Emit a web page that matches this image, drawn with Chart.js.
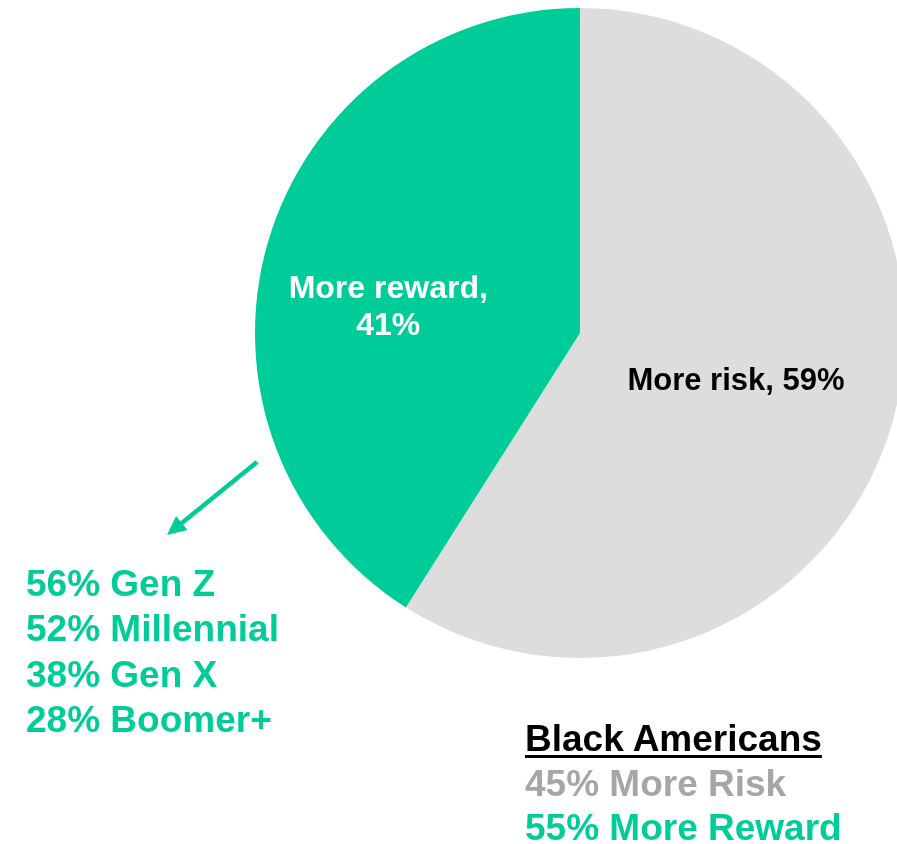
<!DOCTYPE html>
<html>
<head>
<meta charset="utf-8">
<script src="https://cdn.jsdelivr.net/npm/chart.js@4"></script>
<style>
  html, body { margin: 0; padding: 0; background: #fff; overflow: hidden; }
  body { width: 897px; height: 844px; position: relative; font-family: "Liberation Sans", Arial, sans-serif; font-weight: bold; }
  #wrap { position: absolute; left: 0; top: 0; width: 1000px; height: 844px; }
  .note { position: absolute; font-size: 37px; white-space: nowrap; }
  #gens { left: 26px; top: 561px; line-height: 45.3px; color: #00CC99; }
  #black { left: 525px; top: 717px; line-height: 44.5px; }
  #black .head { color: #000; text-decoration: underline; text-decoration-thickness: 3px; text-underline-offset: 4px; }
  #black .risk { color: #A6A6A6; }
  #black .reward { color: #00CC99; }
</style>
</head>
<body>
<div id="wrap"><canvas id="pie-chart"></canvas></div>
<div class="note" id="gens"></div>
<div class="note" id="black"></div>

<script>
// data
var labels = ["More risk", "More reward"];
var values = [59, 41];
var colors = ["#DDDDDD", "#00CC99"];

var genLabels = ["Gen Z", "Millennial", "Gen X", "Boomer+"];
var genValues = [56, 52, 38, 28];

var groupName = "Black Americans";
var groupLabels = ["More Risk", "More Reward"];
var groupValues = [45, 55];

// side notes
document.getElementById('gens').innerHTML = genLabels.map(function (g, i) {
  return '<div>' + genValues[i] + '% ' + g + '</div>';
}).join('');

document.getElementById('black').innerHTML =
  '<div class="head">' + groupName + '</div>' +
  '<div class="risk">' + groupValues[0] + '% ' + groupLabels[0] + '</div>' +
  '<div class="reward">' + groupValues[1] + '% ' + groupLabels[1] + '</div>';

// slice labels + arrow pointing at the generation breakdown
var sliceLabels = {
  id: 'sliceLabels',
  afterDraw: function (chart) {
    var ctx = chart.ctx;
    var arc = chart.getDatasetMeta(0).data[0];
    var cx = arc.x, cy = arc.y, r = arc.outerRadius;
    ctx.save();
    ctx.font = 'bold 31px "Liberation Sans", Arial, sans-serif';
    ctx.textAlign = 'center';
    ctx.textBaseline = 'alphabetic';

    ctx.fillStyle = '#000';
    ctx.fillText(labels[0] + ', ' + values[0] + '%', cx + r * 0.48, cy + 57);

    ctx.fillStyle = '#fff';
    ctx.font = 'bold 32px "Liberation Sans", Arial, sans-serif';
    ctx.fillText(labels[1] + ',', cx - r * 0.59, cy - 35);
    ctx.fillText(values[1] + '%', cx - r * 0.59, cy + 2);

    // arrow
    var x1 = 257, y1 = 462, x2 = 167, y2 = 535;
    var ang = Math.atan2(y2 - y1, x2 - x1);
    var c = Math.cos(ang), s = Math.sin(ang);
    ctx.strokeStyle = '#00CC99';
    ctx.fillStyle = '#00CC99';
    ctx.lineWidth = 4.5;
    ctx.beginPath();
    ctx.moveTo(x1, y1);
    ctx.lineTo(x2 - 12 * c, y2 - 12 * s);
    ctx.stroke();
    ctx.beginPath();
    ctx.moveTo(x2, y2);
    ctx.lineTo(x2 - 19 * c + 9 * s, y2 - 19 * s - 9 * c);
    ctx.lineTo(x2 - 19 * c - 9 * s, y2 - 19 * s + 9 * c);
    ctx.closePath();
    ctx.fill();
    ctx.restore();
  }
};

var pieChart = new Chart(document.getElementById('pie-chart'), {
  type: 'pie',
  data: {
    labels: labels,
    datasets: [{
      data: values,
      backgroundColor: colors,
      borderWidth: 0
    }]
  },
  options: {
    responsive: true, maintainAspectRatio: false,
    animation: false,
    layout: { padding: { left: 255, top: 8, right: 95, bottom: 186 } },
    plugins: {
      legend: { display: false },
      tooltip: { enabled: false }
    }
  },
  plugins: [sliceLabels]
});
</script>
</body>
</html>
